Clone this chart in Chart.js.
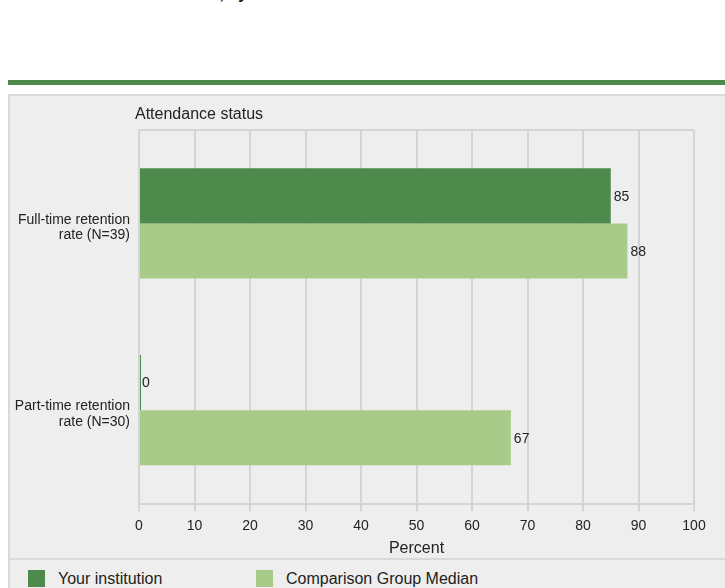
<!DOCTYPE html>
<html>
<head>
<meta charset="utf-8">
<script src="https://cdn.jsdelivr.net/npm/chart.js@4"></script>
<style>
  html, body { margin: 0; padding: 0; background: #fff; }
  body { width: 725px; height: 588px; position: relative; overflow: hidden; font-family: "Liberation Sans", Arial, sans-serif; color: #222; }
  .cut-title { position: absolute; left: 103px; top: -14px; font-size: 16px; font-weight: bold; line-height: 16px; white-space: nowrap; color: #111; }
  .rule { position: absolute; left: 8px; top: 80px; width: 717px; height: 5px; background: #4e8a4c; }
  .panel { position: absolute; left: 8px; top: 94px; width: 717px; height: 494px; background: #eeeeee; border-left: 2px solid #d9d9d9; border-top: 2px solid #d9d9d9; box-sizing: border-box; }
  #chart { position: absolute; left: 10px; top: 96px; }
  .divider { position: absolute; left: 10px; top: 558px; width: 715px; height: 2px; background: #d9d9d9; }
  .legend { position: absolute; left: 0; top: 570px; }
  .legend .item { position: absolute; top: 0; white-space: nowrap; font-size: 16px; line-height: 17px; }
  .legend .box { position: absolute; left: 0; top: 0; width: 17px; height: 17px; }
  .legend .label { position: absolute; top: 0; }
</style>
</head>
<body>
<div class="cut-title">Retention rates, by attendance status</div>
<div class="rule"></div>
<div class="panel"></div>
<canvas id="chart" width="715" height="463"></canvas>
<div class="divider"></div>
<div class="legend" id="legend"></div>
<script>
// ── data ─────────────────────────────────────────────
const categories = [
  ["Full-time retention", "rate (N=39)"],
  ["Part-time retention", "rate (N=30)"]
];
const yourInstitution = [85, 0];
const comparisonMedian = [88, 67];
const seriesNames = ["Your institution", "Comparison Group Median"];
const percentTicks = [0, 10, 20, 30, 40, 50, 60, 70, 80, 90, 100];
const axisTitleY = "Attendance status";
const axisTitleX = "Percent";

const darkGreen = "#4e8a4c";
const lightGreen = "#a9cb8a";
const gridColor = "#d5d5d5";
const textColor = "#222";

Chart.defaults.font.family = "'Liberation Sans', Arial, sans-serif";
Chart.defaults.color = textColor;

// value labels just right of each bar end
const valueLabels = {
  id: "valueLabels",
  afterDatasetsDraw(chart) {
    const { ctx } = chart;
    const xScale = chart.scales.x;
    ctx.save();
    ctx.font = "14px 'Liberation Sans', Arial, sans-serif";
    ctx.fillStyle = textColor;
    ctx.textAlign = "left";
    ctx.textBaseline = "middle";
    chart.data.datasets.forEach((ds, i) => {
      chart.getDatasetMeta(i).data.forEach((bar, j) => {
        const v = ds.data[j];
        ctx.fillText(String(v), xScale.getPixelForValue(v) + 3, bar.y + 1);
      });
    });
    ctx.restore();
  }
};

// horizontal category title sitting above the plot
const sideTitle = {
  id: "sideTitle",
  afterDraw(chart) {
    const { ctx, chartArea } = chart;
    ctx.save();
    ctx.font = "16px 'Liberation Sans', Arial, sans-serif";
    ctx.fillStyle = textColor;
    ctx.textAlign = "left";
    ctx.textBaseline = "alphabetic";
    ctx.fillText(axisTitleY, chartArea.left - 4, 23);
    ctx.restore();
  }
};

const chart = new Chart(document.getElementById("chart"), {
  type: "bar",
  data: {
    labels: categories,
    datasets: [
      {
        label: seriesNames[0],
        data: yourInstitution,
        backgroundColor: darkGreen,
        minBarLength: 2,
        categoryPercentage: 0.59,
        barPercentage: 1
      },
      {
        label: seriesNames[1],
        data: comparisonMedian,
        backgroundColor: lightGreen,
        categoryPercentage: 0.59,
        barPercentage: 1
      }
    ]
  },
  options: {
    indexAxis: "y",
    responsive: false,
    animation: false,
    devicePixelRatio: 1,
    layout: { padding: { top: 34, right: 31, left: 0, bottom: 0 } },
    plugins: {
      legend: { display: false },
      tooltip: { enabled: false }
    },
    scales: {
      x: {
        min: 0, max: 100,
        afterBuildTicks: s => { s.ticks = percentTicks.map(v => ({ value: v })); },
        afterFit: s => { s.height = 55.5; },
        grid: { color: gridColor, lineWidth: 2, tickLength: 8 },
        border: { display: true, color: gridColor, width: 2 },
        ticks: { color: textColor, padding: 6, font: { size: 14 } },
        title: {
          display: true, text: axisTitleX, color: textColor,
          font: { size: 16 }, padding: { top: 0, bottom: 1 }
        }
      },
      y: {
        afterFit: s => { s.width = 129; },
        grid: {
          drawTicks: false, lineWidth: 2,
          color: ctx => ctx.index === 1 ? "rgba(0,0,0,0)" : gridColor
        },
        border: { display: false },
        ticks: { color: textColor, padding: 9, labelOffset: 4, font: { size: 14, lineHeight: 1.08 } }
      }
    }
  },
  plugins: [valueLabels, sideTitle]
});

// legend under the panel divider
const legendEl = document.getElementById("legend");
const legendX = [28, 256];
chart.data.datasets.forEach((ds, i) => {
  const item = document.createElement("div");
  item.className = "item";
  item.style.left = legendX[i] + "px";
  item.innerHTML = `<span class="box" style="background:${ds.backgroundColor}"></span><span class="label" style="left:30px">${ds.label}</span>`;
  legendEl.appendChild(item);
});
</script>
</body>
</html>
